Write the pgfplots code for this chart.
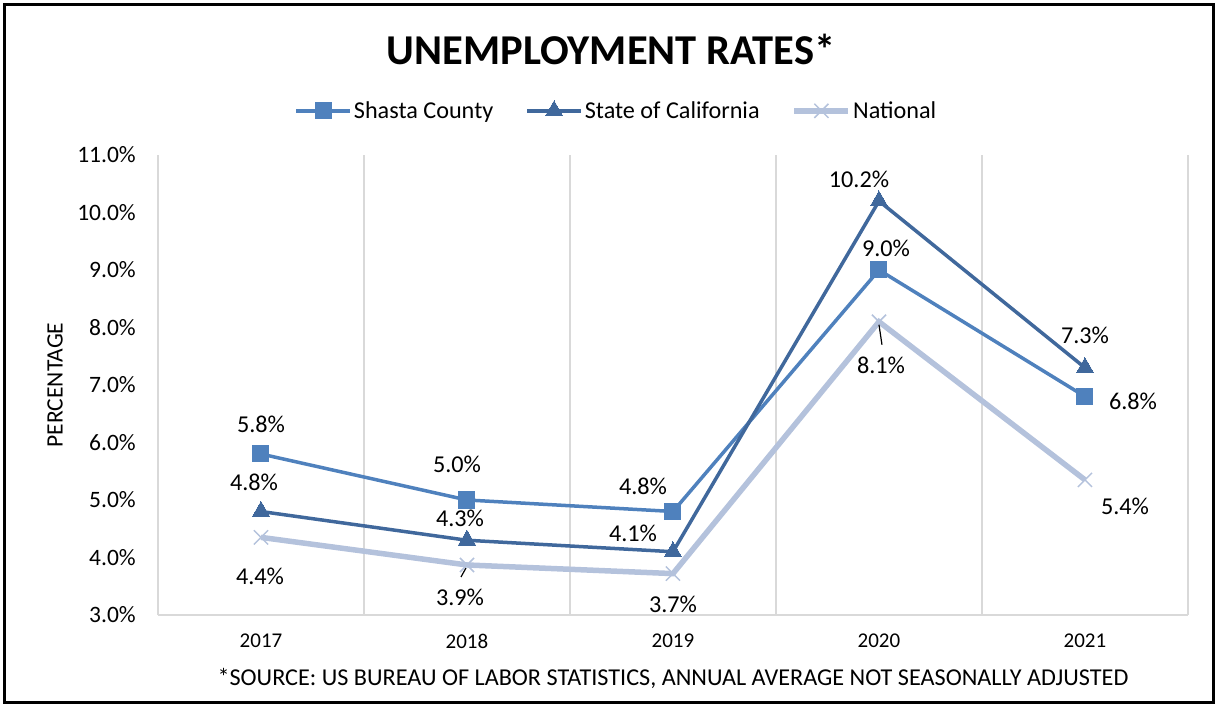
\documentclass[border=0pt]{standalone}
\usepackage{pgfplots}
\pgfplotsset{compat=1.18}
\usepackage{pgfplotstable}
\usepackage{fontspec}
\setmainfont{Carlito}
\definecolor{shasta}{RGB}{79,129,189}
\definecolor{calif}{RGB}{64,104,156}
\definecolor{natl}{RGB}{180,194,220}
\definecolor{gridc}{RGB}{217,217,217}

\pgfplotstableread{
x y lab dx dy
0 5.8 5.8 0 30
1 5.0 5.0 -10 36
2 4.8 4.8 -30 25
3 9.0 9.0 7 22
4 6.8 6.8 48 -5
}\shasta
\pgfplotstableread{
x y lab dx dy
0 4.8 4.8 -7 29
1 4.3 4.3 -7 22
2 4.1 4.1 -40 18
3 10.2 10.2 -20 22
4 7.3 7.3 0 32
}\calif
\pgfplotstableread{
x y lab dx dy
0 4.35 4.4 -1 -39
1 3.87 3.9 -7 -32
2 3.72 3.7 0 -31
3 8.10 8.1 2 -44
4 5.35 5.4 40 -26
}\natl

\begin{document}
\begin{tikzpicture}
\useasboundingbox (-158pt,-89pt) rectangle (1057pt,615pt);
\draw[line width=3pt] (-153pt,-87pt) rectangle (1055.5pt,610pt);
\begin{axis}[
  at={(0pt,0pt)}, anchor=south west,
  scale only axis, width=1030pt, height=460pt,
  clip=false,
  xmin=-0.5, xmax=4.5, ymin=3, ymax=11,
  xtick={0,1,2,3,4},
  xticklabels={2017,2018,2019,2020,2021},
  minor xtick={-0.5,0.5,1.5,2.5,3.5,4.5},
  xminorgrids,
  minor grid style={color=gridc, line width=1.6pt},
  ytick={3,4,...,11},
  yticklabel={\pgfmathprintnumber[assume math mode=true,fixed,fixed zerofill,precision=1]{\tick}\%},
  extra y ticks={3},
  extra y tick labels={},
  extra y tick style={ymajorgrids, major grid style={color=gridc, line width=1.8pt}},
  axis line style={draw=none},
  major tick length=0pt, minor tick length=0pt,
  xticklabel style={font=\fontsize{21}{25}\selectfont, anchor=center, inner sep=0pt, yshift=-26pt},
  yticklabel style={font=\fontsize{23.5}{28}\selectfont, anchor=east, inner sep=0pt, xshift=-22pt},
  title={UNEMPLOYMENT RATES*},
  title style={at={(0.44,1.217)}, anchor=center, font=\fontsize{42.5}{48}\selectfont\bfseries},
  xlabel={*SOURCE: US BUREAU OF LABOR STATISTICS, ANNUAL AVERAGE NOT SEASONALLY ADJUSTED},
  xlabel style={at={(0.5,-0.139)}, anchor=center, font=\fontsize{24.2}{28}\selectfont},
  ylabel={PERCENTAGE},
  ylabel style={at={(-0.1,0.5)}, anchor=center, rotate=0, font=\fontsize{23.5}{28}\selectfont},
  legend columns=3,
  legend style={at={(0.445,1.096)}, anchor=center, draw=none, fill=none,
    font=\fontsize{24.2}{28}\selectfont,
    /tikz/every even column/.append style={column sep=30pt}},
  legend image code/.code={\draw[mark repeat=2,mark phase=2,#1] plot coordinates {(0pt,0pt) (27pt,0pt) (54pt,0pt)};},
  point meta=explicit,
  nodes near coords={\pgfmathprintnumber[assume math mode=true,fixed,fixed zerofill,precision=1]{\pgfplotspointmeta}\%},
  visualization depends on={\thisrow{dx} \as \dxv},
  visualization depends on={\thisrow{dy} \as \dyv},
  every node near coord/.append style={anchor=center, inner sep=0pt, xshift=\dxv pt, yshift=\dyv pt, text=black, font=\fontsize{24.2}{28}\selectfont},
]
\addplot[color=shasta, line width=3.5pt, mark=square*, mark size=8pt, mark options={line width=0pt}] table[x=x, y=y, meta=lab] {\shasta};
\addlegendentry{Shasta County}
\addplot[color=calif, line width=3.5pt, mark=triangle*, mark size=10pt, mark options={line width=0pt}] table[x=x, y=y, meta=lab] {\calif};
\addlegendentry{State of California}
\addplot[color=natl, line width=5.5pt, mark=x, mark size=10pt, mark options={line width=1.5pt}] table[x=x, y=y, meta=lab] {\natl};
\addlegendentry{National}
\draw[black, line width=1.2pt] (axis cs:3,8.10) ++(0pt,-3pt) -- ++(3pt,-20pt);
\draw[black, line width=1.2pt] (axis cs:1,3.87) ++(-1pt,-3pt) -- ++(-5pt,-9pt);
\end{axis}
\end{tikzpicture}
\end{document}
